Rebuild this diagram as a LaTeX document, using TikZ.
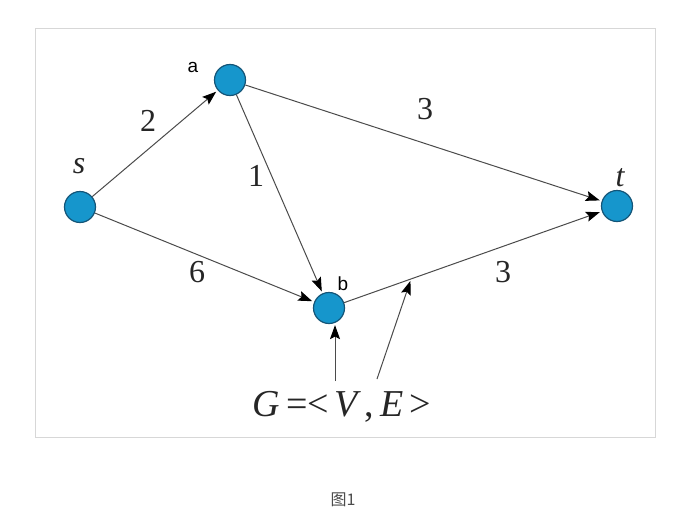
\documentclass[tikz,border=0pt]{standalone}
\usepackage{fontspec}
\setmainfont{Liberation Serif}
\newfontfamily\labsans{Liberation Sans}
\newfontfamily\cjk{Noto Sans CJK SC}
\usetikzlibrary{arrows.meta,calc}
\definecolor{nodefill}{RGB}{22,150,204}
\definecolor{nodeline}{RGB}{20,85,120}
\definecolor{edgeline}{RGB}{75,75,75}
\definecolor{framecol}{RGB}{215,215,215}
\tikzset{
  vtx/.style={circle,fill=nodefill,draw=nodeline,line width=1.2pt,minimum size=31pt,inner sep=0pt},
  edge/.style={draw=edgeline,line width=1pt,-{Stealth[length=14pt,width=10pt,inset=2.5pt,color=black]},shorten >=2pt},
  weight/.style={font=\fontsize{32}{32}\selectfont,text=black!85},
  vname/.style={font=\fontsize{32}{32}\selectfont\itshape,text=black!85},
  sname/.style={font=\labsans\fontsize{19}{19}\selectfont,text=black},
}
\begin{document}
\begin{tikzpicture}[x=1pt,y=-1pt]
\useasboundingbox[fill=white] (0,0) rectangle (695,522);
\draw[framecol,line width=1pt] (35,28) rectangle (655,437);
% vertices
\node[vtx] (s) at (80,207) {};
\node[vtx] (a) at (230,80) {};
\node[vtx] (b) at (329,308) {};
\node[vtx] (t) at (617,206) {};
% vertex names
\node[vname] (ls) at (79,166) {s};
\node[vname] (lt) at (620,178) {t};
\node[sname] (la) at (193,67) {a};
\node[sname] (lb) at (343,284) {b};
% edges
\draw[edge] (s) -- (a);
\draw[edge] (s) -- (b);
\draw[edge] (a) -- (b);
\draw[edge] (a) -- (t);
\draw[edge] (b) -- (t);
% weights
\node[weight] (w2) at (148,121) {2};
\node[weight] (w1) at (256,176) {1};
\node[weight] (w3a) at (425,109) {3};
\node[weight] (w6) at (197,272) {6};
\node[weight] (w3b) at (503,272) {3};
% G label
\node[font=\fontsize{38}{38}\selectfont,text=black!85,inner sep=0pt] (G) at (342,407) {\itshape G\upshape\,=\kern-1pt<\,\itshape V\upshape\,,\,\itshape E\upshape\,>};
\coordinate (g1) at (335,381);
\coordinate (g2) at (377,379);
\coordinate (m) at ($(b)!0.285!(t)$);
\draw[edge,shorten >=1pt] (g1) -- (g1 |- b.south);
\draw[edge,shorten >=2pt] (g2) -- (m);
% caption
\node[font=\cjk\fontsize{16}{16}\selectfont,text=black!70] (cap) at (343,500) {图1};
\end{tikzpicture}
\end{document}
